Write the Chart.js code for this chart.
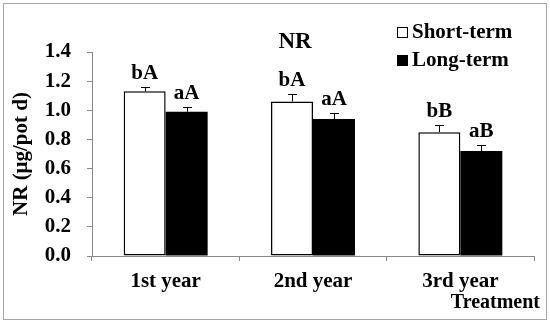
<!DOCTYPE html>
<html>
<head>
<meta charset="utf-8">
<script src="https://cdn.jsdelivr.net/npm/chart.js@4"></script>
<style>
  body { margin: 0; background: #fff; }
</style>
</head>
<body>
<canvas id="nrChart" width="550" height="323"></canvas>
<script>
const years = ['1st year', '2nd year', '3rd year'];
const shortTerm = [1.13, 1.06, 0.85];
const shortErr = [0.03, 0.05, 0.05];
const longTerm = [0.99, 0.94, 0.72];
const longErr = [0.03, 0.04, 0.04];
const shortLetters = ['bA', 'bA', 'bB'];
const longLetters = ['aA', 'aA', 'aB'];
const yMin = 0, yMax = 1.4, yStep = 0.2;

const serif = "'Liberation Serif', 'Times New Roman', serif";
Chart.defaults.font.family = serif;
Chart.defaults.font.weight = 'bold';
Chart.defaults.color = '#000';

const axisGray = '#8a8a8a';

// frame, title, legend, error bars and letters
const extras = {
    id: 'extras',
    beforeDraw(chart) {
        const ctx = chart.ctx;
        ctx.save();
        ctx.strokeStyle = '#a6a6a6';
        ctx.lineWidth = 1;
        ctx.strokeRect(3.5, 3.5, 543, 316);
        ctx.restore();
    },
    afterDatasetsDraw(chart) {
        const ctx = chart.ctx;
        const y = chart.scales.y;
        const errs = [shortErr, longErr];
        const letters = [shortLetters, longLetters];
        ctx.save();
        chart.data.datasets.forEach((ds, i) => {
            const meta = chart.getDatasetMeta(i);
            meta.data.forEach((bar, j) => {
                const top = y.getPixelForValue(ds.data[j] + errs[i][j]);
                const bx = Math.round(bar.x) + 0.5;
                const ty = Math.round(top) + 0.5;
                ctx.strokeStyle = '#000';
                ctx.lineWidth = 1;
                ctx.beginPath();
                ctx.moveTo(bx, bar.y);
                ctx.lineTo(bx, ty);
                ctx.moveTo(bx - 4.5, ty);
                ctx.lineTo(bx + 4.5, ty);
                ctx.stroke();
                ctx.fillStyle = '#000';
                ctx.font = 'bold 21px ' + serif;
                ctx.textAlign = 'center';
                ctx.textBaseline = 'alphabetic';
                ctx.fillText(letters[i][j], bar.x, top - 8);
            });
        });

        // title
        ctx.font = 'bold 23px ' + serif;
        ctx.textAlign = 'center';
        ctx.textBaseline = 'middle';
        ctx.fillText('NR', 295, 42);

        // legend
        ctx.font = 'bold 21px ' + serif;
        ctx.textAlign = 'left';
        chart.data.datasets.forEach((ds, i) => {
            const cy = 32 + i * 28;
            ctx.fillStyle = ds.backgroundColor;
            ctx.fillRect(397, cy - 5, 11, 11);
            ctx.strokeStyle = '#000';
            ctx.lineWidth = 1;
            ctx.strokeRect(397.5, cy - 4.5, 10, 10);
            ctx.fillStyle = '#000';
            ctx.fillText(ds.label, 412, cy + 1);
        });

        // x axis title
        ctx.font = 'bold 20px ' + serif;
        ctx.textAlign = 'right';
        ctx.textBaseline = 'alphabetic';
        ctx.fillText('Treatment', 540, 308);
        ctx.restore();
    }
};

new Chart(document.getElementById('nrChart'), {
    type: 'bar',
    data: {
        labels: years,
        datasets: [
            {
                label: 'Short-term',
                data: shortTerm,
                backgroundColor: '#ffffff',
                borderColor: '#000000',
                borderWidth: 1.5,
                borderSkipped: false
            },
            {
                label: 'Long-term',
                data: longTerm,
                backgroundColor: '#000000',
                borderColor: '#000000',
                borderWidth: 0
            }
        ]
    },
    options: {
        responsive: false,
        animation: false,
        layout: { padding: { top: 52, right: 16, left: 6, bottom: 0 } },
        plugins: {
            legend: { display: false },
            tooltip: { enabled: false }
        },
        datasets: {
            bar: { categoryPercentage: 0.57, barPercentage: 1.0 }
        },
        scales: {
            x: {
                afterFit(scale) { scale.height = 67; },
                grid: {
                    drawOnChartArea: false,
                    color: axisGray,
                    tickLength: 5
                },
                border: { color: axisGray, width: 1 },
                ticks: {
                    font: { size: 21, weight: 'bold' },
                    padding: 8
                }
            },
            y: {
                min: yMin,
                max: yMax,
                afterFit(scale) { scale.width = 86; },
                grid: {
                    drawOnChartArea: false,
                    color: axisGray,
                    tickLength: 5
                },
                border: { color: axisGray, width: 1 },
                ticks: {
                    stepSize: yStep,
                    font: { size: 21, weight: 'bold' },
                    padding: 16,
                    callback: v => v.toFixed(1)
                },
                title: {
                    display: true,
                    text: 'NR (μg/pot d)',
                    font: { size: 21, weight: 'bold' },
                    padding: { top: 3, bottom: 0 }
                }
            }
        }
    },
    plugins: [extras]
});
</script>
</body>
</html>
